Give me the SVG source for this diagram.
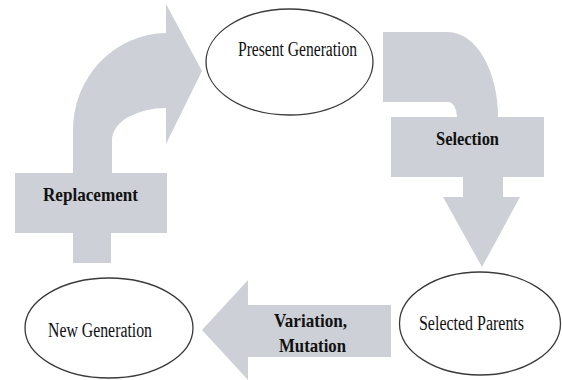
<svg xmlns="http://www.w3.org/2000/svg" width="562" height="380" viewBox="0 0 562 380">
<style>
.arrow{fill:#cdd0d7;stroke:none}
.node{fill:#ffffff;stroke:#3a3a3a;stroke-width:1.3}
.t{font-family:"Liberation Serif","Times New Roman",serif;font-size:20px;fill:#111}
.b{font-family:"Liberation Serif","Times New Roman",serif;font-size:19px;font-weight:bold;fill:#111}
</style>
<rect width="562" height="380" fill="#ffffff"/>
<g id="connectors">
  <g id="replacement">
    <path class="arrow" d="M15,173 L73,173 L73,130 A94,97 0 0 1 166,33 L166,4 L202,71 L166,144 L166,108 A54,32 0 0 0 112,140 L112,173 L167,173 L167,233 L111,233 L111,263 L73,263 L73,233 L15,233 Z"/>
    <text class="b" x="43" y="201" textLength="95" lengthAdjust="spacingAndGlyphs">Replacement</text>
  </g>
  <g id="selection">
    <path class="arrow" d="M383,32 L448,32 A50,85 0 0 1 498,117 L544,117 L544,177 L503,177 L503,197 L520,197 L482,267 L443,197 L463,197 L463,177 L391,177 L391,117 L457,117 A9,15 0 0 0 448,102 L383,102 Z"/>
    <text class="b" x="436" y="145" textLength="63" lengthAdjust="spacingAndGlyphs">Selection</text>
  </g>
  <g id="variation">
    <path class="arrow" d="M202,330 L248,280 L248,305 L391,305 L391,357 L248,357 L248,380 Z"/>
    <text class="b" x="274" y="327" textLength="73" lengthAdjust="spacingAndGlyphs">Variation,</text>
    <text class="b" x="279" y="352" textLength="67" lengthAdjust="spacingAndGlyphs">Mutation</text>
  </g>
</g>
<g id="present-generation">
  <ellipse class="node" cx="289.5" cy="62" rx="83.5" ry="53"/>
  <text class="t" x="238" y="56" textLength="119" lengthAdjust="spacingAndGlyphs">Present Generation</text>
</g>
<g id="selected-parents">
  <ellipse class="node" cx="480" cy="323.5" rx="80.5" ry="51.5"/>
  <text class="t" x="419" y="329.5" textLength="105" lengthAdjust="spacingAndGlyphs">Selected Parents</text>
</g>
<g id="new-generation">
  <ellipse class="node" cx="109" cy="328" rx="84" ry="50"/>
  <text class="t" x="48" y="336.5" textLength="104" lengthAdjust="spacingAndGlyphs">New Generation</text>
</g>
</svg>
